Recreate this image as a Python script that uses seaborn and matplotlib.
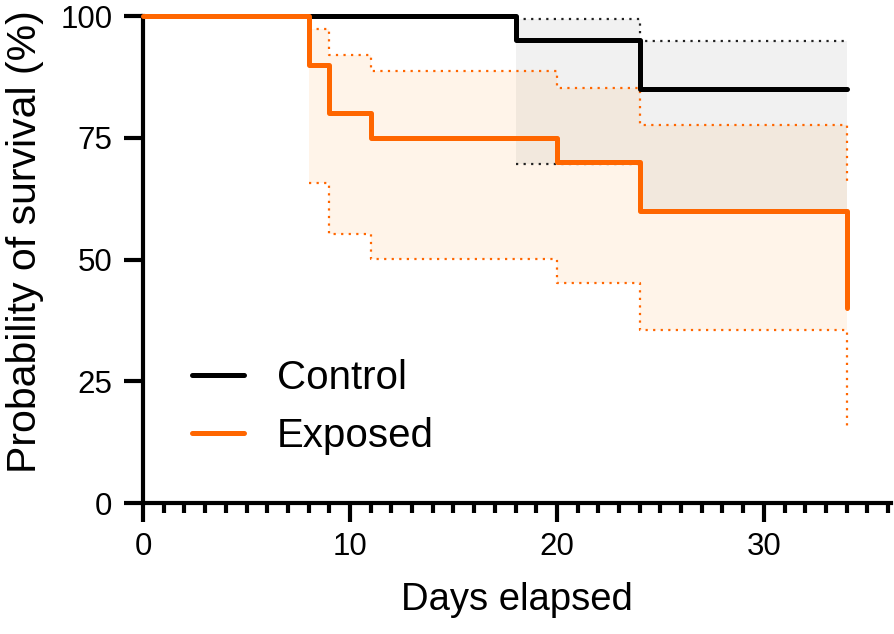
import matplotlib
matplotlib.use("Agg")
import matplotlib.pyplot as plt
from matplotlib.ticker import MultipleLocator
import pandas as pd
import seaborn as sns

# ── Kaplan-Meier steps ──
control_days = [0, 18, 24, 34]
control_surv = [100, 95, 85, 85]
exposed_days = [0, 8, 9, 11, 20, 24, 34]
exposed_surv = [100, 90, 80, 75, 70, 60, 40]

# ── 95% CI bands, from the first event on ──
control_ci_days = [18, 24, 34]
control_ci_low = [69.6, 60.0, 60.0]
control_ci_high = [99.4, 94.9, 94.9]
exposed_ci_days = [8, 9, 11, 20, 24, 34]
exposed_ci_low = [65.7, 55.2, 50.1, 45.2, 35.5, 15.6]
exposed_ci_high = [97.3, 92.0, 88.7, 85.2, 77.6, 65.3]

groups = ["Control", "Exposed"]
COLORS = {"Control": "#000000", "Exposed": "#FF6600"}
DOT_COLORS = {"Control": "#222222", "Exposed": "#FF6600"}
FILL = {"Control": ("#000000", 0.055), "Exposed": ("#FF9A2E", 0.10)}

df = pd.concat([
    pd.DataFrame({"day": control_days, "surv": control_surv, "group": "Control"}),
    pd.DataFrame({"day": exposed_days, "surv": exposed_surv, "group": "Exposed"}),
])
ci = {
    "Control": (control_ci_days, control_ci_low, control_ci_high),
    "Exposed": (exposed_ci_days, exposed_ci_low, exposed_ci_high),
}

sns.set_theme(style="ticks")
plt.rcParams["font.family"] = ["Liberation Sans", "DejaVu Sans"]
plt.rcParams.update({"text.color": "black", "axes.labelcolor": "black",
                     "xtick.color": "black", "ytick.color": "black"})

fig = plt.figure(figsize=(8.94, 6.34), dpi=100)
ax = fig.add_axes([0.160, 0.2066, 0.8368, 0.768])

# CI shading + dotted bounds
for g in groups:
    d, lo, hi = ci[g]
    col, a = FILL[g]
    ax.fill_between(d, lo, hi, step="post", color=col, alpha=a, lw=0, zorder=1)
    for bound in (lo, hi):
        ax.plot(d, bound, drawstyle="steps-post", color=DOT_COLORS[g],
                lw=1.6, ls=(0, (1, 2.4)), zorder=2)

sns.lineplot(data=df, x="day", y="surv", hue="group", palette=COLORS,
             hue_order=groups, drawstyle="steps-post", lw=3.6,
             errorbar=None, clip_on=False, zorder=3, ax=ax)

ax.set_xlim(0, 36.15)
ax.set_ylim(0, 100)
ax.xaxis.set_major_locator(MultipleLocator(10))
ax.xaxis.set_minor_locator(MultipleLocator(1))
ax.yaxis.set_major_locator(MultipleLocator(25))

sns.despine(ax=ax)
for s in ("left", "bottom"):
    ax.spines[s].set_linewidth(3)
    ax.spines[s].set_color("black")
ax.tick_params(which="major", length=14, width=3, labelsize=22.5)
ax.tick_params(axis="x", which="major", pad=7)
ax.tick_params(axis="y", which="major", pad=8)
ax.tick_params(axis="x", which="minor", length=7, width=3)

ax.set_xlabel("Days elapsed", fontsize=27.5, labelpad=14)
ax.set_ylabel("Probability of survival (%)", fontsize=29.5)
ax.yaxis.set_label_coords(-0.133, 0.536)

sns.move_legend(ax, "center left", bbox_to_anchor=(192 / 894, 1 - 407 / 634),
                bbox_transform=fig.transFigure, frameon=False, title=None,
                fontsize=29, handlelength=1.3, handletextpad=0.8,
                labelspacing=0.5, borderpad=0, borderaxespad=0)
for h in ax.get_legend().get_lines():
    h.set_linewidth(3.6)

fig.savefig("out.png", dpi=100, facecolor="white")
